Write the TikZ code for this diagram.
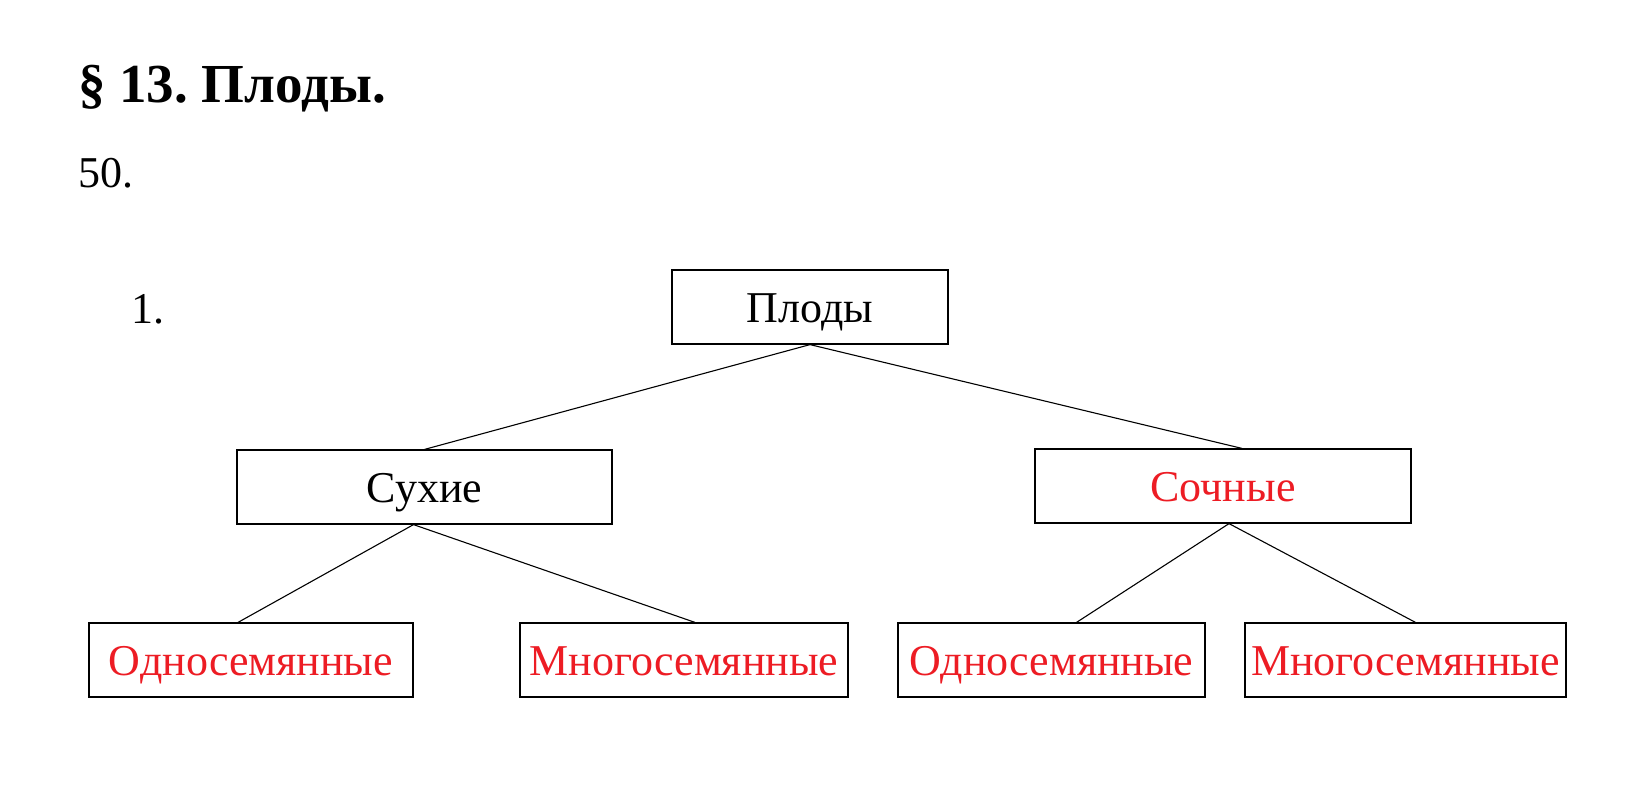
\documentclass[tikz,border=0pt]{standalone}
\usepackage{fontspec}
\setmainfont{Liberation Serif}
\frenchspacing
\definecolor{lblred}{RGB}{237,28,36}
\begin{document}
\begin{tikzpicture}[x=1pt,y=-1pt,
  box/.style={draw,line width=1.2pt,inner sep=0pt,minimum height=74pt,text height=30pt,text depth=0pt,font=\fontsize{44}{50}\selectfont},
  redtxt/.style={text=lblred},
  link/.style={line width=1.1pt},
  plain/.style={inner sep=0pt,font=\fontsize{44}{50}\selectfont}]
\useasboundingbox (0,0) rectangle (1640,788);
\fill[white] (0,0) rectangle (1640,788);
\node[plain,anchor=base west,font=\fontsize{55}{60}\selectfont\bfseries] (title) at (78,102) {§ 13. Плоды.};
\node[plain,anchor=base west] (num) at (78,187) {50.};
\node[plain,anchor=base west] (one) at (131,323) {1.};
\node[box,minimum width=276pt] (plody) at (810,307) {Плоды};
\node[box,minimum width=375pt] (sukhie) at (424.5,487) {Сухие};
\node[box,redtxt,minimum width=376pt] (sochnye) at (1223,486) {Сочные};
\node[box,redtxt,minimum width=324pt] (odno1) at (251,660) {Односемянные};
\node[box,redtxt,minimum width=328pt] (mnogo1) at (684,660) {Многосемянные};
\node[box,redtxt,minimum width=307pt] (odno2) at (1051.5,660) {Односемянные};
\node[box,redtxt,minimum width=321pt] (mnogo2) at (1405.5,660) {Многосемянные};
\draw[link] (plody.south) -- (sukhie.north);
\draw[link] (plody.south) -- ([xshift=19pt]sochnye.north);
\draw[link] ([xshift=-11pt]sukhie.south) -- ([xshift=-13pt]odno1.north);
\draw[link] ([xshift=-11pt]sukhie.south) -- ([xshift=11pt]mnogo1.north);
\draw[link] ([xshift=6pt]sochnye.south) -- ([xshift=25pt]odno2.north);
\draw[link] ([xshift=6pt]sochnye.south) -- ([xshift=10pt]mnogo2.north);
\end{tikzpicture}
\end{document}
